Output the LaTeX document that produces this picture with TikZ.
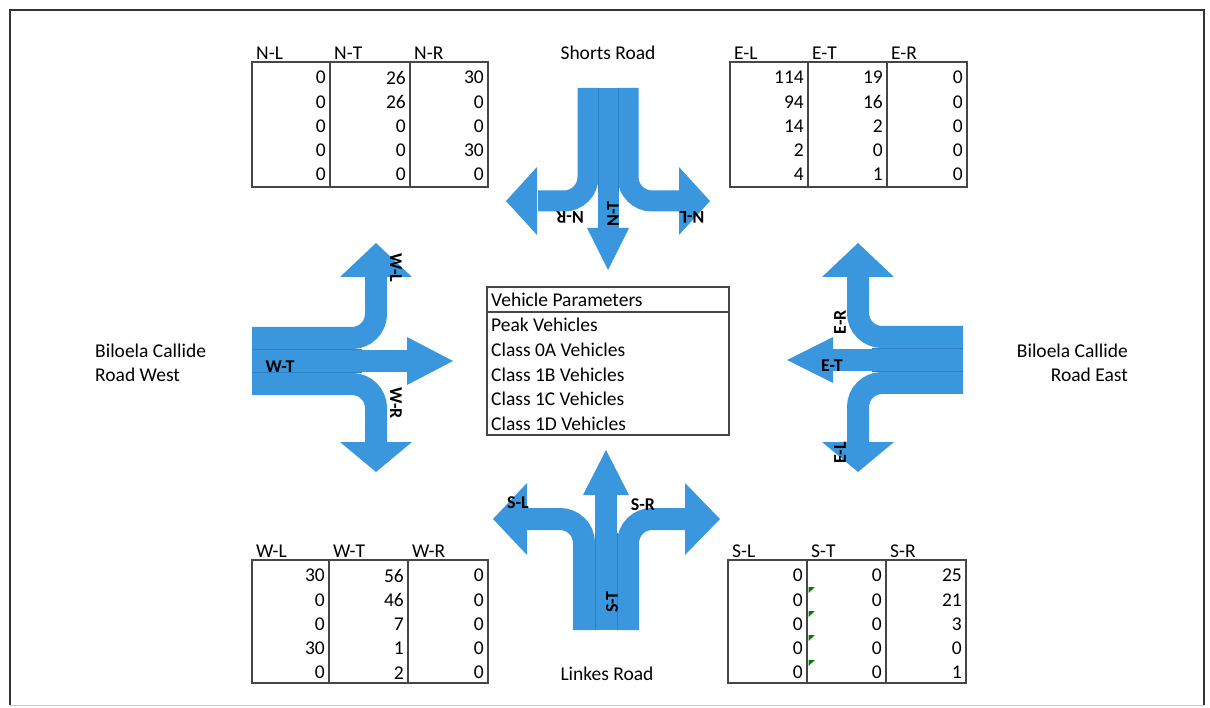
\documentclass[tikz,border=0pt]{standalone}
\usepackage{fontspec}
\setmainfont{Carlito}
\definecolor{roadblue}{RGB}{58,150,221}
\definecolor{laneline}{RGB}{44,128,196}
\definecolor{tblline}{RGB}{70,70,70}
\tikzset{
  roadlane/.style={draw=roadblue, line width=22pt, line cap=butt, rounded corners=24pt},
  roadhead/.style={fill=roadblue},
  divider/.style={draw=laneline, line width=0.6pt},
  lbl/.style={font=\bfseries\fontsize{18}{18}\selectfont, inner sep=0pt},
  txt/.style={font=\fontsize{19.5}{21}\selectfont, inner sep=0pt},
  num/.style={txt, anchor=east},
  hdr/.style={txt, anchor=west},
  tbl/.style={draw=tblline, line width=1.4pt},
  flag/.style={fill=green!50!black},
}
\newcommand\trafftable[9]{%
  \draw[tbl] (#2,#6) rectangle (#5,#7);
  \draw[tbl] (#3,#6) -- (#3,#7);
  \draw[tbl] (#4,#6) -- (#4,#7);
  \node[hdr] (#1hL) at (#2+4,#6-9) {#8-L};
  \node[hdr] (#1hT) at (#3+4,#6-9) {#8-T};
  \node[hdr] (#1hR) at (#4+4,#6-9) {#8-R};
  \foreach \a/\b/\c [count=\i] in {#9} {
    \node[num] (#1a\i) at (#3-4,#6+15.5+24.3*\i-24.3) {\a};
    \node[num] (#1b\i) at (#4-4,#6+15.5+24.3*\i-24.3) {\b};
    \node[num] (#1c\i) at (#5-4,#6+15.5+24.3*\i-24.3) {\c};
  }
}
\begin{document}
\begin{tikzpicture}[x=1pt,y=-1pt]
\useasboundingbox (0,0) rectangle (1210,708);
\fill[white] (0,0) rectangle (1210,708);
% frame
\draw[gray!45, line width=1pt] (10,705) -- (1204,705);
\draw[black!80, line width=2.6pt] (1204,705) -- (1204,10) -- (10,10) -- (10,705);

% ---------- North approach ----------
\draw[roadlane, line width=21pt] (588,88) -- (588,201) -- (538,201);
\fill[roadhead] (537,167) -- (506,201) -- (537,235) -- cycle;
\draw[roadlane, line width=21pt] (628,88) -- (628,201) -- (680,201);
\fill[roadhead] (679,167) -- (710,201) -- (679,235) -- cycle;
\draw[roadlane, line width=21pt] (608,88) -- (608,229);
\fill[roadhead] (587,228) -- (608,270) -- (629,228) -- cycle;
\draw[divider] (598,88) -- (598,192);
\draw[divider] (618,88) -- (618,192);

% ---------- West approach ----------
\draw[roadlane] (252,338) -- (376,338) -- (376,276);
\fill[roadhead] (340,277) -- (376,243) -- (412,277) -- cycle;
\draw[roadlane] (252,384) -- (376,384) -- (376,443);
\fill[roadhead] (340,442) -- (376,472) -- (412,442) -- cycle;
\draw[roadlane] (252,361) -- (408,361);
\fill[roadhead] (407,337) -- (453,361) -- (407,385) -- cycle;
\draw[divider] (252,349.5) -- (362,349.5);
\draw[divider] (252,372.5) -- (362,372.5);

% ---------- East approach ----------
\draw[roadlane] (963,337) -- (858,337) -- (858,276);
\fill[roadhead] (822,277) -- (858,243) -- (894,277) -- cycle;
\draw[roadlane] (963,383) -- (858,383) -- (858,443);
\fill[roadhead] (822,442) -- (858,472) -- (894,442) -- cycle;
\draw[roadlane] (963,360) -- (832,360);
\fill[roadhead] (833,337) -- (787,360) -- (833,383) -- cycle;
\draw[divider] (963,348.5) -- (872,348.5);
\draw[divider] (963,371.5) -- (872,371.5);

% ---------- South approach ----------
\draw[roadlane] (584,630) -- (584,519) -- (526,519);
\fill[roadhead] (527,483) -- (493,519) -- (527,555) -- cycle;
\draw[roadlane] (628,630) -- (628,519) -- (686,519);
\fill[roadhead] (685,483) -- (720,519) -- (685,555) -- cycle;
\draw[roadlane] (606,630) -- (606,494);
\fill[roadhead] (583,495) -- (606,450) -- (629,495) -- cycle;
\draw[divider] (595,630) -- (595,533);
\draw[divider] (617,630) -- (617,533);

% ---------- movement labels ----------
\node[lbl, rotate=180] (lNR) at (570,217) {N-R};
\node[lbl, rotate=90] (lNT) at (613,214) {N-T};
\node[lbl, rotate=180] (lNL) at (692,217) {N-L};
\node[lbl, rotate=-90] (lWL) at (396,268) {W-L};
\node[lbl] (lWT) at (280,367) {W-T};
\node[lbl, rotate=-90] (lWR) at (396,403) {W-R};
\node[lbl, rotate=90] (lER) at (840,322) {E-R};
\node[lbl] (lET) at (832,366) {E-T};
\node[lbl, rotate=90] (lEL) at (840,453) {E-L};
\node[lbl] (lSL) at (518,503) {S-L};
\node[lbl] (lSR) at (643,505) {S-R};
\node[lbl, rotate=90] (lST) at (612,602) {S-T};

% ---------- road names ----------
\node[txt] (shorts) at (608,53) {Shorts Road};
\node[txt] (linkes) at (607,674) {Linkes Road};
\node[hdr] (bw1) at (95,351) {Biloela Callide};
\node[hdr] (bw2) at (95,375) {Road West};
\node[txt, anchor=east] (be1) at (1128,351) {Biloela Callide};
\node[txt, anchor=east] (be2) at (1128,375) {Road East};

% ---------- centre table ----------
\draw[tbl] (487,287) rectangle (729,435);
\draw[tbl] (487,312) -- (729,312);
\node[hdr] (vp0) at (491,300) {Vehicle Parameters};
\node[hdr] (vp1) at (491,325) {Peak Vehicles};
\node[hdr] (vp2) at (491,350) {Class 0A Vehicles};
\node[hdr] (vp3) at (491,375) {Class 1B Vehicles};
\node[hdr] (vp4) at (491,399) {Class 1C Vehicles};
\node[hdr] (vp5) at (491,424) {Class 1D Vehicles};

% ---------- count tables ----------
\trafftable{tn}{252}{330}{410}{488}{62}{187}{N}{0/26/30,0/26/0,0/0/0,0/0/30,0/0/0}
\trafftable{te}{730}{808}{887}{967}{62}{187}{E}{114/19/0,94/16/0,14/2/0,2/0/0,4/1/0}
\trafftable{tw}{252}{329}{408}{488}{560}{683}{W}{30/56/0,0/46/0,0/7/0,30/1/0,0/2/0}
\trafftable{ts}{728}{807}{886}{966}{560}{683}{S}{0/0/25,0/0/21,0/0/3,0/0/0,0/0/1}
\foreach \yy in {587,611,635,660} {
  \fill[flag] (808.5,\yy) -- (815,\yy) -- (808.5,\yy+6) -- cycle;
}
\end{tikzpicture}
\end{document}
